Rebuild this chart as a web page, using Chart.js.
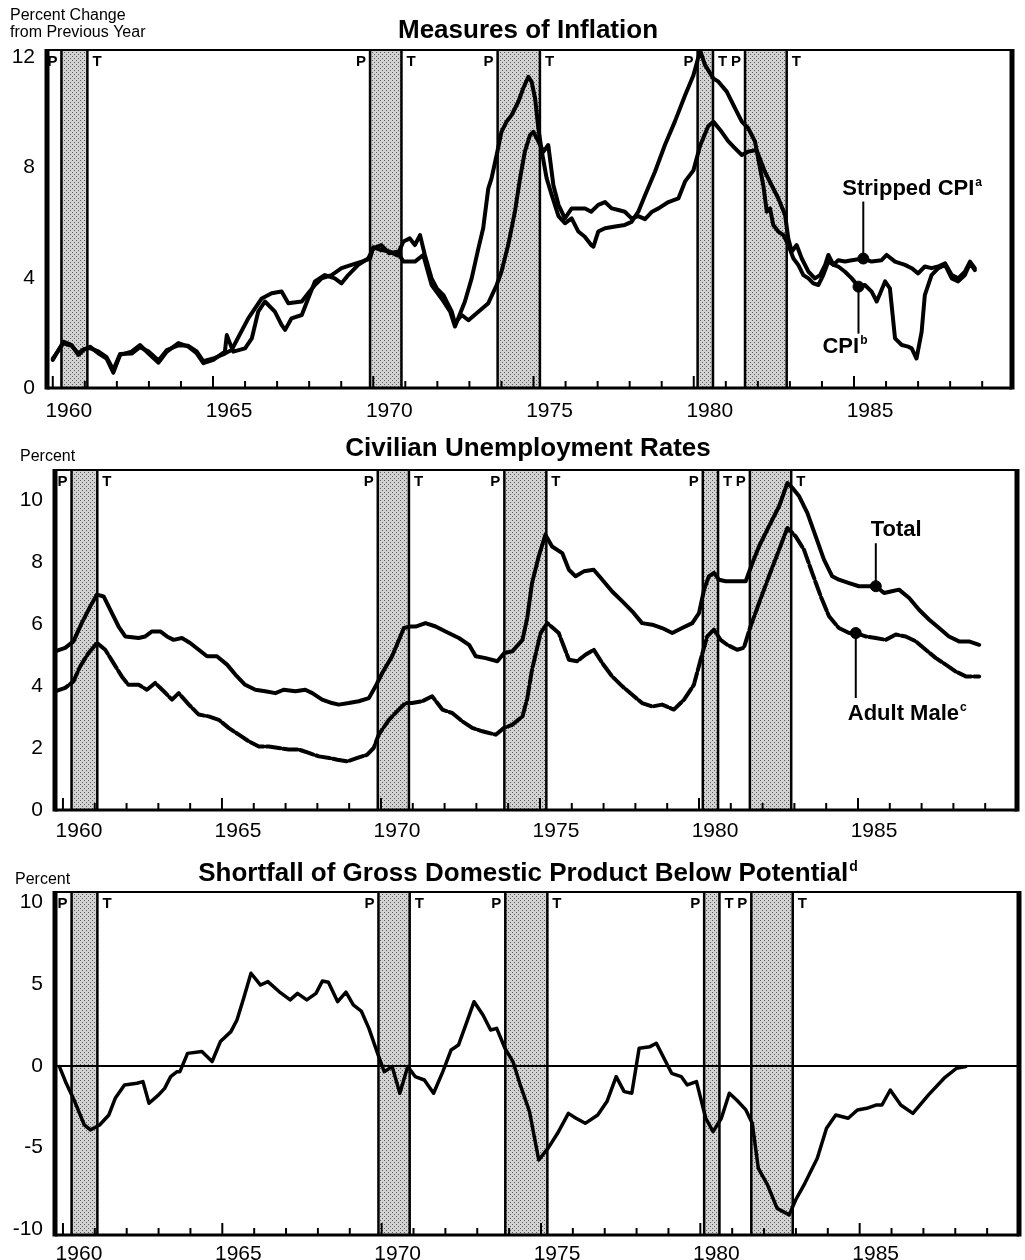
<!DOCTYPE html>
<html>
<head>
<meta charset="utf-8">
<script src="https://cdn.jsdelivr.net/npm/chart.js@4.4.1/dist/chart.umd.min.js"></script>
<style>
  body { margin: 0; background: #fff; }
  canvas { display: block; }
</style>
</head>
<body>
<canvas id="inflationChart" width="1025" height="420"></canvas>
<canvas id="unemploymentChart" width="1025" height="420"></canvas>
<canvas id="gdpChart" width="1025" height="420"></canvas>
<script>
// business cycle peaks (P) and troughs (T), as decimal years
const peakDates = [1960.27, 1969.9, 1973.88, 1980.12, 1981.6];
const troughDates = [1961.08, 1970.88, 1975.2, 1980.6, 1982.9];

const labelYears = [1960, 1965, 1970, 1975, 1980, 1985];
const inflationTicks = [0, 4, 8, 12];
const unemploymentTicks = [0, 2, 4, 6, 8, 10];
const gdpTicks = [-10, -5, 0, 5, 10];

// [year, percent change from previous year]
const cpiSeries = [
  [1960.0, 1.02], [1960.33, 1.68], [1960.59, 1.56], [1960.8, 1.2], [1960.96, 1.38], [1961.16, 1.5],
  [1961.42, 1.26], [1961.68, 1.07], [1961.89, 0.56], [1962.1, 1.2], [1962.46, 1.32], [1962.72, 1.56],
  [1962.98, 1.26], [1963.3, 0.92], [1963.56, 1.32], [1963.92, 1.63], [1964.23, 1.5], [1964.49, 1.26],
  [1964.7, 0.9], [1965.01, 1.02], [1965.37, 1.32], [1965.43, 1.92], [1965.63, 1.32], [1966.0, 1.44],
  [1966.21, 1.8], [1966.41, 2.77], [1966.62, 3.14], [1966.93, 2.77], [1967.14, 2.29], [1967.25, 2.11],
  [1967.45, 2.53], [1967.77, 2.65], [1967.97, 3.25], [1968.18, 3.87], [1968.49, 4.1], [1968.8, 3.98],
  [1969.01, 3.8], [1969.22, 4.1], [1969.53, 4.47], [1969.84, 4.7], [1970.0, 5.07], [1970.25, 5.19],
  [1970.5, 4.89], [1970.75, 4.95], [1970.94, 4.59], [1971.3, 4.59], [1971.56, 4.83], [1971.82, 3.74],
  [1972.13, 3.25], [1972.4, 2.77], [1972.55, 2.23], [1972.86, 3.14], [1973.07, 3.98], [1973.28, 5.07],
  [1973.43, 5.8], [1973.59, 7.25], [1973.69, 7.61], [1973.85, 8.46], [1974.0, 9.3], [1974.16, 9.67],
  [1974.32, 9.91], [1974.53, 10.4], [1974.68, 10.88], [1974.84, 11.3], [1974.94, 11.12], [1975.05, 10.51],
  [1975.15, 9.43], [1975.26, 8.58], [1975.41, 7.61], [1975.57, 7.0], [1975.78, 6.24], [1975.98, 5.98],
  [1976.19, 6.16], [1976.4, 5.68], [1976.6, 5.49], [1976.8, 5.19], [1976.87, 5.13], [1977.02, 5.68],
  [1977.23, 5.8], [1977.55, 5.86], [1977.85, 5.92], [1978.06, 6.03], [1978.27, 6.4], [1978.48, 7.0],
  [1978.79, 7.85], [1979.1, 8.82], [1979.41, 9.67], [1979.73, 10.63], [1979.99, 11.35], [1980.2, 12.25],
  [1980.35, 11.73], [1980.61, 11.24], [1980.77, 11.12], [1981.03, 10.76], [1981.29, 10.15], [1981.5, 9.67],
  [1981.7, 9.43], [1981.91, 8.95], [1981.96, 8.64], [1982.17, 7.36], [1982.28, 6.4], [1982.38, 6.52],
  [1982.48, 5.92], [1982.64, 5.68], [1982.8, 5.55], [1982.95, 5.19], [1983.11, 4.7], [1983.26, 4.47],
  [1983.42, 4.1], [1983.58, 3.98], [1983.73, 3.8], [1983.89, 3.74], [1984.04, 4.1], [1984.2, 4.59],
  [1984.36, 4.47], [1984.51, 4.41], [1984.72, 4.22], [1984.93, 3.98], [1985.14, 3.68], [1985.34, 3.74],
  [1985.55, 3.5], [1985.71, 3.14], [1985.97, 3.87], [1986.12, 3.62], [1986.28, 1.8], [1986.49, 1.56],
  [1986.69, 1.5], [1986.8, 1.44], [1986.95, 1.07], [1987.11, 2.04], [1987.21, 3.37], [1987.42, 4.1],
  [1987.63, 4.35], [1987.84, 4.47], [1988.05, 3.98], [1988.25, 3.87], [1988.46, 4.1], [1988.62, 4.53],
  [1988.77, 4.28]
];

const strippedSeries = [
  [1960.0, 1.07], [1960.33, 1.62], [1960.59, 1.53], [1960.8, 1.25], [1960.96, 1.41], [1961.16, 1.45],
  [1961.42, 1.33], [1961.68, 1.12], [1961.89, 0.66], [1962.1, 1.23], [1962.46, 1.25], [1962.72, 1.48],
  [1962.98, 1.33], [1963.3, 1.0], [1963.56, 1.38], [1963.92, 1.55], [1964.23, 1.53], [1964.49, 1.33],
  [1964.7, 0.97], [1965.01, 1.07], [1965.37, 1.25], [1965.58, 1.38], [1966.1, 2.53], [1966.52, 3.25],
  [1966.83, 3.44], [1967.14, 3.5], [1967.35, 3.08], [1967.77, 3.14], [1967.97, 3.44], [1968.18, 3.74],
  [1968.39, 3.98], [1968.7, 4.1], [1969.01, 4.35], [1969.32, 4.47], [1969.64, 4.59], [1969.9, 4.7],
  [1970.0, 5.11], [1970.25, 5.01], [1970.5, 4.96], [1970.75, 4.81], [1970.94, 5.32], [1971.14, 5.43],
  [1971.3, 5.19], [1971.46, 5.55], [1971.61, 4.83], [1971.82, 3.98], [1971.98, 3.62], [1972.19, 3.37],
  [1972.45, 2.77], [1972.55, 2.35], [1972.76, 2.65], [1972.97, 2.46], [1973.28, 2.77], [1973.59, 3.08],
  [1973.85, 3.74], [1974.0, 4.22], [1974.21, 5.19], [1974.42, 6.4], [1974.58, 7.61], [1974.73, 8.58],
  [1974.89, 9.18], [1975.0, 9.3], [1975.15, 8.95], [1975.31, 8.58], [1975.46, 8.82], [1975.62, 7.36],
  [1975.78, 6.65], [1975.98, 6.16], [1976.19, 6.52], [1976.4, 6.52], [1976.61, 6.52], [1976.8, 6.4],
  [1977.02, 6.65], [1977.23, 6.75], [1977.44, 6.52], [1977.65, 6.46], [1977.85, 6.4], [1978.06, 6.16],
  [1978.27, 6.24], [1978.48, 6.13], [1978.7, 6.4], [1978.9, 6.52], [1979.21, 6.75], [1979.52, 6.88],
  [1979.73, 7.5], [1979.99, 7.9], [1980.2, 8.8], [1980.45, 9.5], [1980.61, 9.67], [1980.87, 9.3],
  [1981.08, 8.95], [1981.29, 8.7], [1981.5, 8.46], [1981.7, 8.58], [1981.96, 8.64], [1982.22, 7.85],
  [1982.43, 7.36], [1982.64, 6.88], [1982.85, 6.28], [1982.95, 5.43], [1983.06, 4.95], [1983.21, 5.19],
  [1983.37, 4.7], [1983.58, 4.22], [1983.78, 3.98], [1983.94, 4.1], [1984.1, 4.47], [1984.2, 4.83],
  [1984.36, 4.47], [1984.51, 4.64], [1984.72, 4.59], [1984.93, 4.64], [1985.29, 4.7], [1985.55, 4.59],
  [1985.86, 4.64], [1986.02, 4.83], [1986.28, 4.59], [1986.59, 4.47], [1986.8, 4.35], [1987.0, 4.16],
  [1987.21, 4.41], [1987.42, 4.35], [1987.63, 4.41], [1987.84, 4.53], [1988.05, 4.1], [1988.25, 3.98],
  [1988.46, 4.22], [1988.62, 4.59], [1988.77, 4.35]
];

// [year, percent]
const totalSeries = [
  [1959.75, 5.12], [1960.07, 5.23], [1960.33, 5.44], [1960.59, 6.03], [1960.86, 6.57], [1961.07, 6.95],
  [1961.28, 6.89], [1961.54, 6.35], [1961.75, 5.92], [1961.96, 5.6], [1962.38, 5.55], [1962.59, 5.6],
  [1962.8, 5.76], [1963.06, 5.76], [1963.27, 5.6], [1963.48, 5.49], [1963.74, 5.55], [1964.0, 5.39],
  [1964.27, 5.17], [1964.53, 4.96], [1964.84, 4.96], [1965.16, 4.69], [1965.42, 4.37], [1965.73, 4.04],
  [1966.05, 3.88], [1966.36, 3.83], [1966.68, 3.77], [1966.94, 3.88], [1967.31, 3.83], [1967.62, 3.88],
  [1967.84, 3.77], [1968.15, 3.56], [1968.46, 3.45], [1968.67, 3.4], [1968.99, 3.45], [1969.3, 3.51],
  [1969.62, 3.61], [1969.83, 3.99], [1970.04, 4.42], [1970.35, 4.96], [1970.61, 5.6], [1970.72, 5.87],
  [1970.93, 5.92], [1971.09, 5.92], [1971.4, 6.03], [1971.72, 5.92], [1972.03, 5.76], [1972.45, 5.55],
  [1972.77, 5.33], [1972.98, 4.96], [1973.29, 4.9], [1973.66, 4.8], [1973.87, 5.06], [1974.13, 5.12],
  [1974.45, 5.49], [1974.6, 6.2], [1974.75, 7.32], [1974.96, 8.18], [1975.17, 8.88], [1975.38, 8.5],
  [1975.7, 8.29], [1975.91, 7.75], [1976.12, 7.54], [1976.38, 7.7], [1976.69, 7.75], [1976.96, 7.43],
  [1977.27, 7.05], [1977.59, 6.73], [1977.9, 6.41], [1978.21, 6.03], [1978.53, 5.98], [1978.84, 5.87],
  [1979.16, 5.71], [1979.47, 5.87], [1979.79, 6.03], [1980.0, 6.35], [1980.16, 7.11], [1980.31, 7.54],
  [1980.47, 7.65], [1980.63, 7.43], [1980.84, 7.38], [1981.15, 7.38], [1981.47, 7.38], [1981.68, 7.97],
  [1981.89, 8.51], [1982.2, 9.15], [1982.52, 9.8], [1982.78, 10.55], [1982.94, 10.39], [1983.15, 10.12],
  [1983.41, 9.58], [1983.67, 8.83], [1983.93, 8.08], [1984.19, 7.54], [1984.4, 7.43], [1984.72, 7.32],
  [1985.03, 7.22], [1985.3, 7.22], [1985.56, 7.22], [1985.82, 7.0], [1986.03, 7.05], [1986.29, 7.11],
  [1986.61, 6.84], [1986.92, 6.46], [1987.24, 6.14], [1987.55, 5.87], [1987.86, 5.6], [1988.18, 5.44],
  [1988.49, 5.44], [1988.81, 5.33]
];

const adultMaleSeries = [
  [1959.75, 3.83], [1960.07, 3.94], [1960.33, 4.15], [1960.54, 4.63], [1960.8, 5.06], [1961.07, 5.39],
  [1961.33, 5.17], [1961.59, 4.74], [1961.85, 4.31], [1962.06, 4.04], [1962.38, 4.04], [1962.64, 3.88],
  [1962.9, 4.1], [1963.17, 3.83], [1963.43, 3.56], [1963.64, 3.77], [1963.96, 3.4], [1964.27, 3.08],
  [1964.58, 3.02], [1964.9, 2.91], [1965.21, 2.65], [1965.53, 2.43], [1965.84, 2.22], [1966.16, 2.05],
  [1966.47, 2.05], [1966.79, 2.0], [1967.1, 1.95], [1967.42, 1.95], [1967.73, 1.84], [1968.05, 1.73],
  [1968.37, 1.68], [1968.63, 1.62], [1968.94, 1.57], [1969.26, 1.68], [1969.56, 1.78], [1969.77, 2.0],
  [1969.93, 2.43], [1970.25, 2.91], [1970.56, 3.24], [1970.77, 3.45], [1970.98, 3.45], [1971.3, 3.51],
  [1971.61, 3.67], [1971.93, 3.24], [1972.24, 3.13], [1972.56, 2.86], [1972.87, 2.65], [1973.19, 2.54],
  [1973.61, 2.43], [1973.87, 2.65], [1974.13, 2.75], [1974.45, 3.02], [1974.6, 3.6], [1974.75, 4.53],
  [1975.02, 5.71], [1975.23, 6.03], [1975.59, 5.71], [1975.91, 4.85], [1976.17, 4.8], [1976.43, 5.01],
  [1976.69, 5.17], [1976.96, 4.74], [1977.27, 4.31], [1977.59, 3.99], [1977.9, 3.72], [1978.21, 3.45],
  [1978.53, 3.34], [1978.84, 3.4], [1979.21, 3.24], [1979.53, 3.56], [1979.84, 4.04], [1980.05, 4.85],
  [1980.26, 5.6], [1980.47, 5.82], [1980.68, 5.49], [1980.89, 5.33], [1981.2, 5.17], [1981.41, 5.23],
  [1981.62, 5.92], [1981.89, 6.68], [1982.2, 7.54], [1982.52, 8.4], [1982.78, 9.1], [1983.04, 8.83],
  [1983.3, 8.4], [1983.56, 7.65], [1983.83, 6.89], [1984.09, 6.25], [1984.4, 5.87], [1984.72, 5.71],
  [1984.93, 5.71], [1985.24, 5.6], [1985.56, 5.55], [1985.87, 5.49], [1986.19, 5.66], [1986.5, 5.6],
  [1986.82, 5.44], [1987.13, 5.17], [1987.45, 4.9], [1987.76, 4.69], [1988.07, 4.47], [1988.39, 4.31],
  [1988.81, 4.31]
];

// [year, percent shortfall of GDP below potential]
const gdpGapSeries = [
  [1959.89, -0.04], [1960.08, -0.96], [1960.37, -2.18], [1960.67, -3.61], [1960.86, -3.91], [1961.15, -3.61],
  [1961.44, -3.0], [1961.64, -1.98], [1961.93, -1.16], [1962.32, -1.06], [1962.51, -0.96], [1962.7, -2.28],
  [1963.0, -1.77], [1963.19, -1.37], [1963.38, -0.65], [1963.58, -0.35], [1963.67, -0.35], [1963.91, 0.77],
  [1964.36, 0.88], [1964.68, 0.27], [1964.94, 1.49], [1965.27, 2.1], [1965.46, 2.81], [1965.67, 4.14],
  [1965.9, 5.67], [1966.2, 4.95], [1966.43, 5.16], [1966.78, 4.55], [1967.13, 4.04], [1967.36, 4.44],
  [1967.65, 4.04], [1967.94, 4.44], [1968.14, 5.2], [1968.33, 5.12], [1968.62, 3.93], [1968.88, 4.51],
  [1969.11, 3.73], [1969.36, 3.36], [1969.6, 2.3], [1969.89, 0.67], [1970.08, -0.35], [1970.33, -0.04],
  [1970.57, -1.67], [1970.82, -0.04], [1971.05, -0.65], [1971.34, -0.86], [1971.63, -1.67], [1971.92, -0.35],
  [1972.18, 0.98], [1972.41, 1.28], [1972.64, 2.51], [1972.9, 3.93], [1973.18, 3.12], [1973.42, 2.2],
  [1973.61, 2.3], [1973.87, 1.08], [1974.12, 0.27], [1974.35, -1.16], [1974.64, -2.79], [1974.93, -5.75],
  [1975.22, -5.04], [1975.52, -4.12], [1975.86, -2.9], [1976.1, -3.2], [1976.39, -3.51], [1976.78, -3.0],
  [1977.07, -2.18], [1977.36, -0.65], [1977.61, -1.57], [1977.85, -1.67], [1978.08, 1.08], [1978.42, 1.18],
  [1978.62, 1.39], [1979.1, -0.45], [1979.4, -0.65], [1979.59, -1.16], [1979.88, -0.96], [1980.17, -3.2],
  [1980.4, -4.02], [1980.66, -3.2], [1980.91, -1.67], [1981.14, -2.08], [1981.43, -2.69], [1981.63, -3.51],
  [1981.82, -6.26], [1982.11, -7.28], [1982.41, -8.71], [1982.79, -9.11], [1982.99, -8.2], [1983.28, -7.18],
  [1983.67, -5.65], [1983.96, -3.81], [1984.25, -3.0], [1984.64, -3.2], [1984.93, -2.69], [1985.22, -2.59],
  [1985.51, -2.39], [1985.7, -2.39], [1985.96, -1.47], [1986.29, -2.39], [1986.67, -2.9], [1987.16, -1.77],
  [1987.65, -0.75], [1988.04, -0.14], [1988.33, -0.04]
];

// points where the series labels attach
const inflationMarkers = [[1985.29, 4.7], [1985.14, 3.68]];
const unemploymentMarkers = [[1985.56, 7.22], [1984.93, 5.71]];

const FONT = '"Liberation Sans", Arial, Helvetica, sans-serif';
const tickYears = [];
for (let yr = 1960; yr <= 1989; yr++) tickYears.push(yr);

const toXY = s => s.map(([x, y]) => ({ x, y }));

function stipple(ctx) {
  const tile = document.createElement('canvas');
  tile.width = 4; tile.height = 4;
  const t = tile.getContext('2d');
  t.fillStyle = '#d2d2d2';
  t.fillRect(0, 0, 4, 4);
  t.fillStyle = '#5a5a5a';
  t.fillRect(0, 0, 1, 1);
  t.fillRect(2, 2, 1, 1);
  return ctx.createPattern(tile, 'repeat');
}

function textWithSup(ctx, text, sup, x, y, size, align) {
  ctx.font = 'bold ' + size + 'px ' + FONT;
  const w = ctx.measureText(text).width;
  const supSize = Math.round(size * 0.55);
  ctx.font = 'bold ' + supSize + 'px ' + FONT;
  const sw = sup ? ctx.measureText(sup).width + 1 : 0;
  const left = align === 'center' ? x - (w + sw) / 2 : x;
  ctx.textAlign = 'left';
  ctx.textBaseline = 'alphabetic';
  ctx.font = 'bold ' + size + 'px ' + FONT;
  ctx.fillText(text, left, y);
  if (sup) {
    ctx.font = 'bold ' + supSize + 'px ' + FONT;
    ctx.fillText(sup, left + w + 1, y - size * 0.4);
  }
}

const recessionBands = {
  id: 'recessionBands',
  beforeDatasetsDraw(chart) {
    const { ctx, chartArea: a, scales: { x } } = chart;
    const pat = stipple(ctx);
    ctx.save();
    peakDates.forEach((p, i) => {
      const x0 = x.getPixelForValue(p);
      const x1 = x.getPixelForValue(troughDates[i]);
      ctx.fillStyle = pat;
      ctx.fillRect(x0, a.top, x1 - x0, a.bottom - a.top);
      ctx.strokeStyle = '#000';
      ctx.lineWidth = 2.5;
      ctx.beginPath();
      ctx.moveTo(x0, a.top); ctx.lineTo(x0, a.bottom);
      ctx.moveTo(x1, a.top); ctx.lineTo(x1, a.bottom);
      ctx.stroke();
      ctx.fillStyle = '#000';
      ctx.font = 'bold 15px ' + FONT;
      ctx.textBaseline = 'alphabetic';
      ctx.textAlign = 'right';
      ctx.fillText('P', x0 - 4, a.top + 16);
      ctx.textAlign = 'left';
      ctx.fillText('T', x1 + 5, a.top + 16);
    });
    ctx.restore();
  }
};

const frame = {
  id: 'frame',
  afterDatasetsDraw(chart, args, opts) {
    const { ctx, chartArea: a, scales: { x, y } } = chart;
    const seg = (x0, y0, x1, y1, w) => {
      ctx.lineWidth = w;
      ctx.beginPath(); ctx.moveTo(x0, y0); ctx.lineTo(x1, y1); ctx.stroke();
    };
    ctx.save();
    ctx.strokeStyle = '#000';
    ctx.fillStyle = '#000';
    // year ticks pointing into the plot
    x.ticks.forEach(t => {
      const px = x.getPixelForValue(t.value);
      seg(px, a.bottom, px, a.bottom - (t.value % 5 === 0 ? 12 : 7), 2);
    });
    if (opts.zeroLine) {
      const py = y.getPixelForValue(0);
      seg(a.left, py, a.right, py, 2);
    }
    seg(a.left, a.top, a.right, a.top, 2);
    seg(a.left, a.bottom, a.right, a.bottom, 3);
    seg(a.left, a.top - 1, a.left, a.bottom + 1.5, 5);
    seg(a.right, a.top - 1, a.right, a.bottom + 1.5, 5);

    textWithSup(ctx, opts.title, opts.titleSup, opts.titleX, opts.titleY, 26, 'center');

    ctx.font = '16px ' + FONT;
    ctx.textAlign = 'left';
    opts.unit.forEach(u => ctx.fillText(u.text, u.x, u.y));

    (opts.notes || []).forEach(n => {
      const mx = x.getPixelForValue(n.at[0]);
      const my = y.getPixelForValue(n.at[1]);
      seg(mx, my, mx, my + n.leader, 2);
      textWithSup(ctx, n.text, n.sup, mx + n.dx, my + n.dy, 22, 'left');
    });
    ctx.restore();
  }
};

function buildChart(id, cfg) {
  return new Chart(document.getElementById(id), {
    type: 'line',
    data: { datasets: cfg.datasets },
    options: {
      responsive: false,
      animation: false,
      layout: { padding: cfg.padding },
      plugins: {
        legend: { display: false },
        tooltip: { enabled: false },
        frame: cfg.frame
      },
      scales: {
        x: {
          type: 'linear', min: cfg.xMin, max: cfg.xMax,
          afterFit: s => { s.height = cfg.xHeight; },
          afterBuildTicks: s => { s.ticks = tickYears.map(v => ({ value: v })); },
          grid: { display: false, drawTicks: false },
          border: { display: false },
          ticks: {
            autoSkip: false, maxRotation: 0, minRotation: 0,
            padding: cfg.xPad, labelOffset: 16, color: '#000',
            font: { family: FONT, size: 21 },
            callback: v => labelYears.includes(v) ? String(v) : ''
          }
        },
        y: {
          type: 'linear', min: cfg.yMin, max: cfg.yMax,
          afterFit: s => { s.width = cfg.yWidth; },
          afterBuildTicks: s => { s.ticks = cfg.yTicks.map(v => ({ value: v })); },
          grid: { display: false, drawTicks: false },
          border: { display: false },
          ticks: {
            padding: 12, color: '#000',
            font: { family: FONT, size: 21 },
            callback: v => String(v)
          }
        }
      }
    },
    plugins: [recessionBands, frame]
  });
}

const solid = (data, w) => ({
  data: toXY(data), borderColor: '#000', borderWidth: w, pointRadius: 0,
  tension: 0, borderJoinStyle: 'round', borderCapStyle: 'round', fill: false
});
const dots = data => ({
  data: toXY(data), showLine: false, pointRadius: 5.5,
  backgroundColor: '#000', borderColor: '#000'
});

buildChart('inflationChart', {
  datasets: [solid(cpiSeries, 4), solid(strippedSeries, 4), dots(inflationMarkers)],
  padding: { top: 50, right: 13, left: 0, bottom: 0 },
  xMin: 1959.82, xMax: 1989.93, xHeight: 32, xPad: 11,
  yMin: 0, yMax: 12.27, yWidth: 47, yTicks: inflationTicks,
  frame: {
    title: 'Measures of Inflation', titleX: 528, titleY: 38,
    unit: [{ text: 'Percent Change', x: 10, y: 20 }, { text: 'from Previous Year', x: 10, y: 37 }],
    notes: [
      { text: 'Stripped CPI', sup: 'a', at: inflationMarkers[0], dx: -21, dy: -64, leader: -57 },
      { text: 'CPI', sup: 'b', at: inflationMarkers[1], dx: -36, dy: 66, leader: 47 }
    ]
  }
});

const maleLine = solid(adultMaleSeries, 4);
maleLine.borderDash = [14, 3];

buildChart('unemploymentChart', {
  datasets: [solid(totalSeries, 4), maleLine, dots(unemploymentMarkers)],
  padding: { top: 50, right: 8, left: 0, bottom: 0 },
  xMin: 1959.75, xMax: 1990, xHeight: 30, xPad: 9,
  yMin: 0, yMax: 10.97, yWidth: 55, yTicks: unemploymentTicks,
  frame: {
    title: 'Civilian Unemployment Rates', titleX: 528, titleY: 36,
    unit: [{ text: 'Percent', x: 20, y: 41 }],
    notes: [
      { text: 'Total', dx: -5, dy: -50, leader: -43, at: unemploymentMarkers[0] },
      { text: 'Adult Male', sup: 'c', dx: -8, dy: 87, leader: 65, at: unemploymentMarkers[1] }
    ]
  }
});

buildChart('gdpChart', {
  datasets: [solid(gdpGapSeries, 3.5)],
  padding: { top: 52, right: 6, left: 0, bottom: 0 },
  xMin: 1959.75, xMax: 1990, xHeight: 25, xPad: 7,
  yMin: -10.34, yMax: 10.64, yWidth: 55, yTicks: gdpTicks,
  frame: {
    title: 'Shortfall of Gross Domestic Product Below Potential', titleSup: 'd',
    titleX: 528, titleY: 41, zeroLine: true,
    unit: [{ text: 'Percent', x: 15, y: 44 }]
  }
});
</script>
</body>
</html>
